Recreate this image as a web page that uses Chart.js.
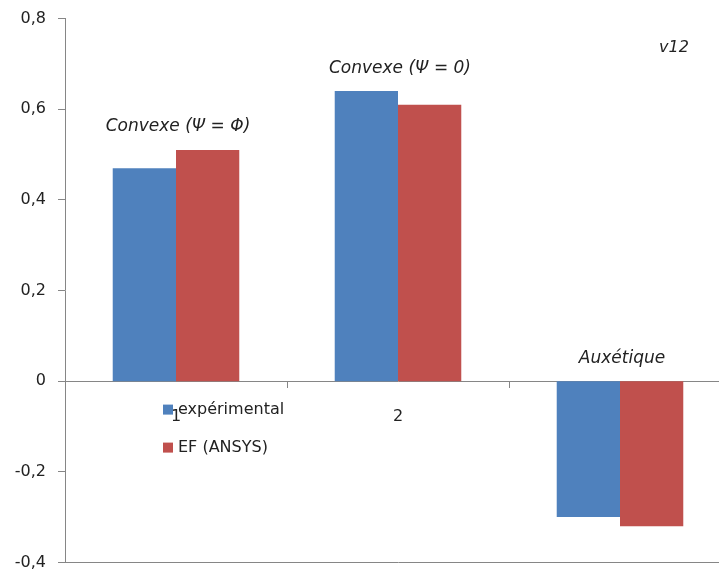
<!DOCTYPE html>
<html>
<head>
<meta charset="utf-8">
<script src="https://cdn.jsdelivr.net/npm/chart.js@4/dist/chart.umd.min.js"></script>
<style>
  body { margin: 0; overflow: hidden; background: #fff; }
  #graficoV12 { display: block; margin-top: -3px; }
</style>
</head>
<body>
<canvas id="graficoV12" width="731" height="587"></canvas>
<script>
// datos del grafico
var categorias = ["1", "2", "3"];
var experimental = [0.47, 0.64, -0.30];
var ansys = [0.51, 0.61, -0.32];
var etiquetasGrupo = ["Convexe (\u03A8 = \u03A6)", "Convexe (\u03A8 = 0)", "Auxétique"];
var nombresSeries = ["expérimental", "EF (ANSYS)"];
var coloresSeries = ["#4F81BD", "#C0504D"];
var tituloCaso = "v12";

var gris = "#868686";
var fuente = "DejaVu Sans, Verdana, sans-serif";

// textos sobre las barras, leyenda y v12
var pluginTextos = {
  id: "textos",
  afterDraw: function (chart) {
    var ctx = chart.ctx;
    var area = chart.chartArea;
    var x = chart.scales.x;
    var y = chart.scales.y;
    ctx.save();
    ctx.fillStyle = "#222";
    ctx.font = "italic 17px " + fuente;
    ctx.textAlign = "center";
    ctx.textBaseline = "middle";
    for (var i = 0; i < categorias.length; i++) {
      var arriba = Math.max(experimental[i], ansys[i], 0);
      ctx.fillText(etiquetasGrupo[i], x.getPixelForValue(i) + 2, y.getPixelForValue(arriba) - 23);
    }
    ctx.font = "italic 16px " + fuente;
    ctx.fillText(tituloCaso, area.right - 57, area.top + 29);

    // leyenda dentro del area
    ctx.font = "16px " + fuente;
    ctx.textAlign = "left";
    for (var s = 0; s < nombresSeries.length; s++) {
      var ly = area.top + 391 + s * 38;
      ctx.fillStyle = coloresSeries[s];
      ctx.fillRect(area.left + 98, ly - 5, 10, 10);
      ctx.fillStyle = "#222";
      ctx.fillText(nombresSeries[s], area.left + 113, ly);
    }
    ctx.restore();
  }
};

var config = {
  type: "bar",
  data: {
    labels: categorias,
    datasets: [
      { label: nombresSeries[0], data: experimental, backgroundColor: coloresSeries[0] },
      { label: nombresSeries[1], data: ansys, backgroundColor: coloresSeries[1] }
    ]
  },
  options: {
    responsive: false,
    animation: false,
    devicePixelRatio: 1,
    categoryPercentage: 0.57,
    barPercentage: 1.0,
    layout: { padding: 0 },
    scales: {
      x: {
        position: { y: 0 },
        grid: { offset: true, drawOnChartArea: false, tickLength: 6, color: gris },
        border: { color: gris, width: 1 },
        ticks: { color: "#222", padding: 20, font: { family: fuente, size: 16 } }
      },
      y: {
        min: -0.4,
        max: 0.8,
        afterFit: function (scale) { scale.width = 65; },
        grid: {
          drawOnChartArea: true,
          tickLength: 7,
          tickColor: gris,
          color: function (c) {
            return (c.tick && Math.abs(c.tick.value + 0.4) < 1e-6) ? gris : "rgba(0,0,0,0)";
          }
        },
        border: { color: gris, width: 1 },
        ticks: {
          stepSize: 0.2,
          padding: 12,
          color: "#222",
          font: { family: fuente, size: 16 },
          callback: function (v) {
            return Number(Number(v).toFixed(1)).toString().replace(".", ",");
          }
        }
      }
    },
    plugins: {
      legend: { display: false },
      tooltip: { enabled: false }
    }
  },
  plugins: [pluginTextos]
};

var grafico = new Chart(document.getElementById("graficoV12").getContext("2d"), config);
</script>
</body>
</html>
